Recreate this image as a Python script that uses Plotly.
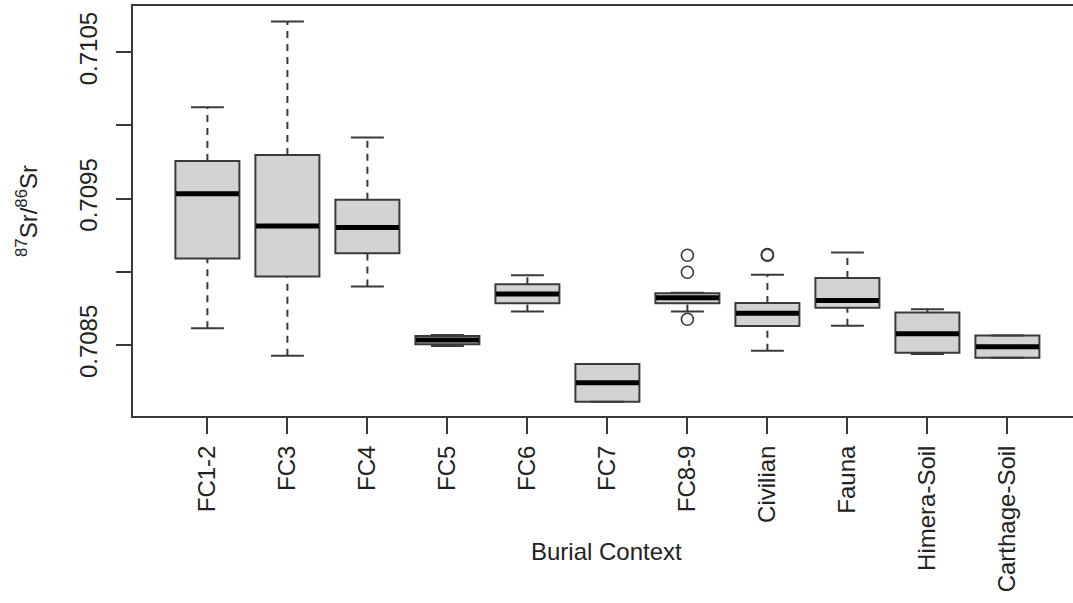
import plotly.graph_objects as go

categories = ["FC1-2", "FC3", "FC4", "FC5", "FC6", "FC7", "FC8-9",
              "Civilian", "Fauna", "Himera-Soil", "Carthage-Soil"]
lower_whisker = [0.708614, 0.708427, 0.708899, 0.708493, 0.708728, 0.708113,
                 0.708728, 0.708461, 0.708632, 0.708439, 0.708413]
q1 = [0.709090, 0.708967, 0.709127, 0.708505, 0.708785, 0.708113,
      0.708785, 0.708630, 0.708755, 0.708447, 0.708413]
median = [0.709532, 0.709313, 0.709302, 0.708534, 0.708848, 0.708242,
          0.708823, 0.708717, 0.708803, 0.708577, 0.708488]
q3 = [0.709757, 0.709798, 0.709491, 0.708562, 0.708915, 0.708370,
      0.708853, 0.708787, 0.708958, 0.708721, 0.708564]
upper_whisker = [0.710124, 0.710709, 0.709917, 0.708568, 0.708976, 0.708370,
                 0.708857, 0.708980, 0.709131, 0.708744, 0.708564]
outlier_cat = ["FC8-9", "FC8-9", "FC8-9", "Civilian", "Civilian"]
outlier_val = [0.709113, 0.708997, 0.708676, 0.709113, 0.709117]

y_tickvals = [0.7085, 0.7090, 0.7095, 0.7100, 0.7105]
y_ticktext = ["0.7085", "", "0.7095", "", "0.7105"]

LINE = "#3a3a3a"
FONT = dict(family="Liberation Sans, Arial, sans-serif", size=24, color="#222222")

fig = go.Figure()

# boxes
fig.add_trace(go.Box(
    x=categories, q1=q1, median=median, q3=q3,
    lowerfence=q1, upperfence=q3,
    fillcolor="#D3D3D3", line=dict(color=LINE, width=2),
    boxpoints=False, whiskerwidth=0, showlegend=False, hoverinfo="skip"))

# dashed whiskers
wx, wy = [], []
for c, lo, a, b, hi in zip(categories, lower_whisker, q1, q3, upper_whisker):
    wx += [c, c, None, c, c, None]
    wy += [b, hi, None, lo, a, None]
fig.add_trace(go.Scatter(x=wx, y=wy, mode="lines",
                         line=dict(color=LINE, width=2, dash="7px,6px"),
                         showlegend=False, hoverinfo="skip"))

# whisker caps (line-ew length = 1.4 * size)
fig.add_trace(go.Scatter(x=categories + categories, y=upper_whisker + lower_whisker,
                         mode="markers",
                         marker=dict(symbol="line-ew", size=23.5,
                                     line=dict(color=LINE, width=2)),
                         showlegend=False, hoverinfo="skip"))

# thick medians
fig.add_trace(go.Scatter(x=categories, y=median, mode="markers",
                         marker=dict(symbol="line-ew", size=45,
                                     line=dict(color="#000000", width=5)),
                         showlegend=False, hoverinfo="skip"))

# outliers
fig.add_trace(go.Scatter(x=outlier_cat, y=outlier_val, mode="markers",
                         marker=dict(symbol="circle-open", size=12,
                                     line=dict(color=LINE, width=1.6), color=LINE),
                         showlegend=False, hoverinfo="skip"))

fig.update_layout(
    width=1073, height=603,
    margin=dict(l=133, r=0, t=6, b=187),
    paper_bgcolor="white", plot_bgcolor="white",
    font=FONT, boxgap=0.2, boxgroupgap=0,
    xaxis=dict(type="category", categoryorder="array", categoryarray=categories,
               range=[-0.93, 10.82], tickangle=-90, automargin=False,
               ticks="outside", ticklen=16, tickwidth=2, tickcolor=LINE,
               showline=True, linecolor=LINE, linewidth=2, mirror=True,
               showgrid=False, zeroline=False, tickfont=FONT,
               ticklabelstandoff=2),
    yaxis=dict(range=[0.708015, 0.710815], tickvals=y_tickvals, ticktext=y_ticktext,
               tickangle=-90, ticks="outside", ticklen=15, tickwidth=2, tickcolor=LINE,
               showline=True, linecolor=LINE, linewidth=2, mirror=False,
               showgrid=False, zeroline=False, tickfont=FONT, automargin=False,
               ticklabelstandoff=9),
    annotations=[
        dict(text="<sup>87</sup>Sr/<sup>86</sup>Sr", textangle=-90,
             xref="paper", yref="paper", x=(27 - 133) / 940, y=0.5,
             xanchor="center", yanchor="middle", showarrow=False, font=FONT),
        dict(text="Burial Context",
             xref="paper", yref="paper", x=(606.5 - 133) / 940, y=(416 - 551) / 410,
             xanchor="center", yanchor="middle", showarrow=False, font=FONT),
    ],
)

fig.write_html("out.html", config={"displayModeBar": False},
               post_script="document.body.style.margin='0';")
